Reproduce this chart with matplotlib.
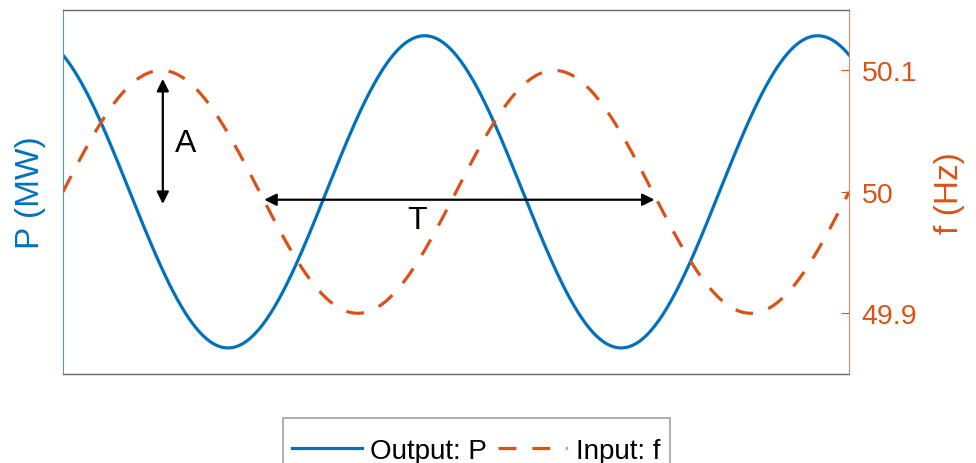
"""Power response P to a sinusoidal frequency input f."""

import numpy as np
import matplotlib.pyplot as plt

plt.rcParams['font.family'] = ['Liberation Sans', 'DejaVu Sans']

# Signal description (time axis in cycles of the input)
cycles_shown = 2.0
f_nominal = 50.0        # Hz
f_amplitude = 0.1       # Hz
p_amplitude = 1.0       # MW (left axis carries no tick values)
p_phase_lag = 0.67      # cycles, output peak lags input peak

f_ticks = [49.9, 50.0, 50.1]
f_ticklabels = ['49.9', '50', '50.1']

# Annotation anchors (cycles, Hz)
amp_arrow_x = 0.254
amp_arrow_f = (50.093, 49.990)
period_arrow_x = (0.512, 1.505)
period_arrow_f = 49.9935

BLUE = '#0072BD'
ORANGE = '#D95319'

t = np.linspace(0, cycles_shown, 600)
f = f_nominal + f_amplitude * np.sin(2 * np.pi * t)
p = p_amplitude * np.sin(2 * np.pi * (t - p_phase_lag))

fig = plt.figure(figsize=(9.76, 4.64), dpi=100)
ax = fig.add_axes([0.0645, 0.1918, 0.8055, 0.7852])
ax2 = ax.twinx()

line_p, = ax.plot(t, p, color=BLUE, lw=2.3, label='Output: P')
line_f, = ax2.plot(t, f, color=ORANGE, lw=2.3, ls=(0, (5.6, 5.0)),
                   label='Input: f')

ax.set_xlim(0, cycles_shown)
ax.set_ylim(-1.167 * p_amplitude, 1.167 * p_amplitude)
ax2.set_ylim(49.85, 50.15)

ax.set_xticks([])
ax.set_yticks([])
ax2.set_yticks(f_ticks)
ax2.set_yticklabels(f_ticklabels)
ax2.tick_params(axis='y', direction='in', length=5.5, width=0.8, pad=9,
                colors=ORANGE, labelsize=20.5)

ax.set_ylabel('P (MW)', color=BLUE, fontsize=24, labelpad=12)
ax2.set_ylabel('f (Hz)', color=ORANGE, fontsize=24, labelpad=12)

for a in (ax, ax2):
    for side in ('top', 'bottom'):
        a.spines[side].set_color('#6e6e6e')
        a.spines[side].set_linewidth(0.9)
ax.spines['left'].set_color('#4a9ad4')
ax.spines['right'].set_visible(False)
ax2.spines['left'].set_visible(False)
ax2.spines['right'].set_color('#d98a6a')

# Amplitude and period markers
arrow = dict(arrowstyle='<|-|>', color='black', lw=1.6, mutation_scale=18,
             shrinkA=0, shrinkB=0)
ax2.annotate('', xy=(amp_arrow_x, amp_arrow_f[0]),
             xytext=(amp_arrow_x, amp_arrow_f[1]), arrowprops=arrow)
ax2.text(0.313, 50.040, 'A', fontsize=23, ha='center', va='center')
ax2.annotate('', xy=(period_arrow_x[0], period_arrow_f),
             xytext=(period_arrow_x[1], period_arrow_f), arrowprops=arrow)
ax2.text(0.90, 49.977, 'T', fontsize=23, ha='center', va='center')

# blank tiny title only adds headroom above the entries
leg = fig.legend(handles=[line_p, line_f], loc='upper center',
                 bbox_to_anchor=(0.488, 0.097), ncol=2, fontsize=20,
                 title=' ', title_fontsize=8, labelspacing=0,
                 frameon=True, fancybox=False, edgecolor='#8a8a8a',
                 handlelength=2.5, handletextpad=0.3, columnspacing=0.4,
                 borderpad=0.35, borderaxespad=0)
leg.get_frame().set_linewidth(1.2)

fig.savefig('out.png', dpi=100)
